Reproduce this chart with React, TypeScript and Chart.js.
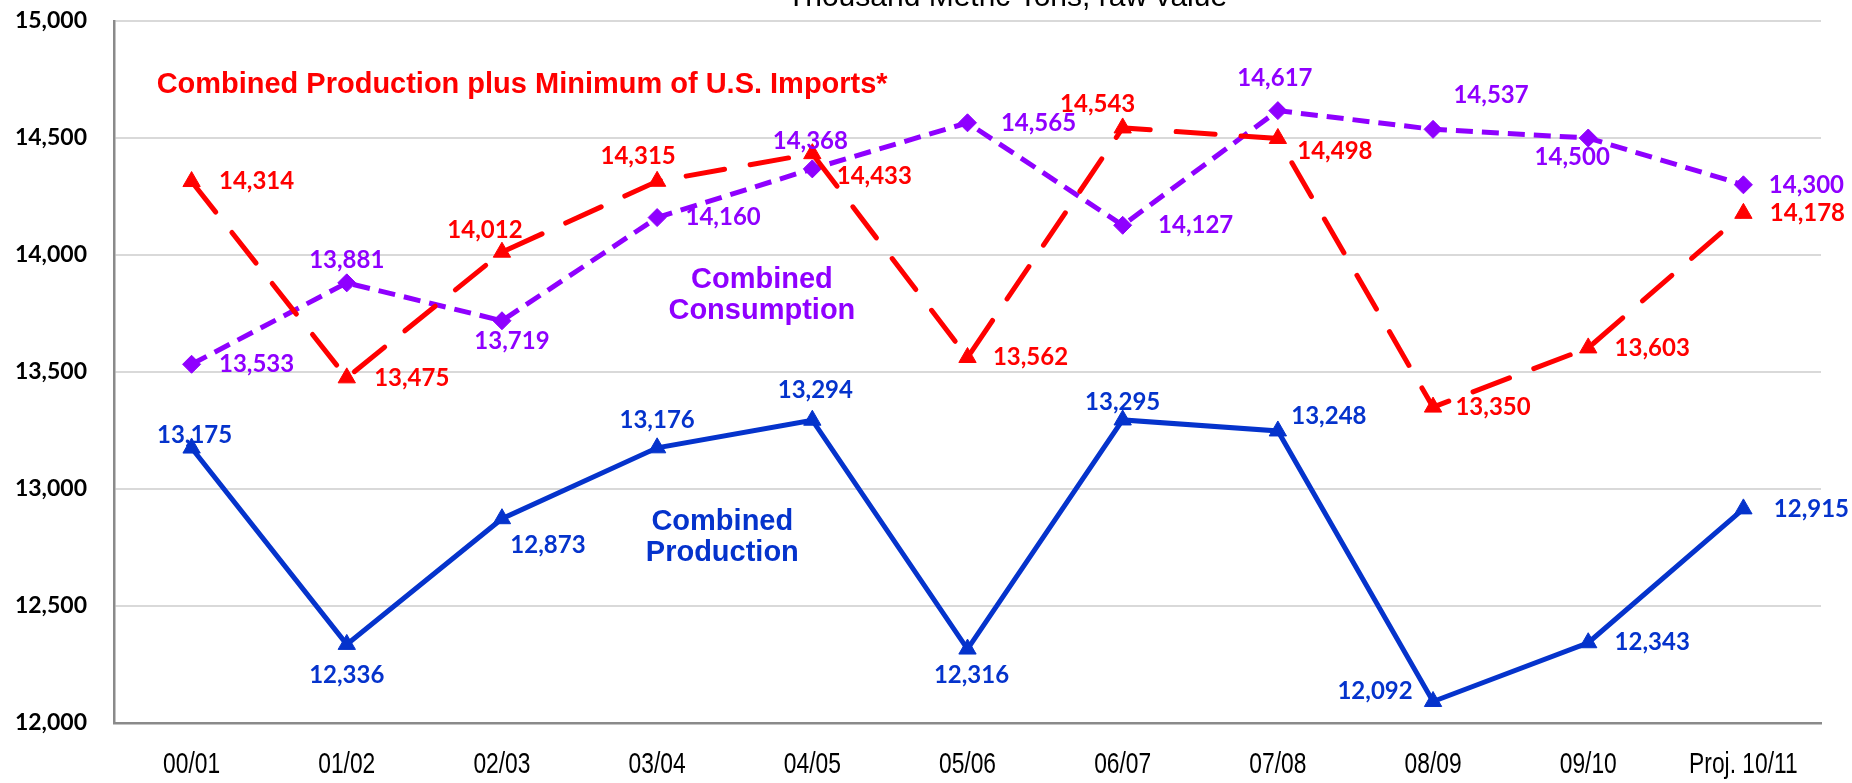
import React, { useEffect, useRef } from 'react';
import { Chart, registerables } from 'chart.js';

Chart.register(...registerables);

const categories = ['00/01', '01/02', '02/03', '03/04', '04/05', '05/06', '06/07', '07/08', '08/09', '09/10', 'Proj. 10/11'];
const productionValues = [13175, 12336, 12873, 13176, 13294, 12316, 13295, 13248, 12092, 12343, 12915];
const productionPlusImportsValues = [14314, 13475, 14012, 14315, 14433, 13562, 14543, 14498, 13350, 13603, 14178];
const consumptionValues = [13533, 13881, 13719, 14160, 14368, 14565, 14127, 14617, 14537, 14500, 14300];

const yMin = 12000;
const yMax = 15000;
const yStep = 500;

const titleText = 'Thousand Metric Tons, raw value';
const productionName = ['Combined', 'Production'];
const consumptionName = ['Combined', 'Consumption'];
const importsName = ['Combined Production plus Minimum of U.S. Imports*'];

// label offsets (px) relative to each point
const productionLabelOffsets = [[3, -13], [0, 31], [46, 27], [0, -28], [3, -30], [4, 26], [0, -18], [51, -15], [-58, -10], [64, 0], [68, 0]];
const importsLabelOffsets = [[65, 0], [65, 0], [-17, -22], [-19, -25], [62, 23], [63, 0], [-25, -24], [57, 13], [60, 0], [64, 0], [64, 0]];
const consumptionLabelOffsets = [[65, 0], [0, -23], [10, 21], [66, 0], [-2, -28], [71, 0], [73, 0], [-3, -32], [58, -34], [-16, 19], [63, 0]];

const BLUE = '#0533CC';
const RED = '#FF0000';
const PURPLE = '#8F00FF';

const fmt = (v: number) => v.toLocaleString('en-US');

const labelPlugin = {
  id: 'customLabels',
  afterDatasetsDraw(chart: any) {
    const ctx = chart.ctx;
    const offsets = [productionLabelOffsets, importsLabelOffsets, consumptionLabelOffsets];
    const colors = [BLUE, RED, PURPLE];
    ctx.save();
    ctx.font = 'bold 24px Lato, "Open Sans", sans-serif';
    ctx.textAlign = 'center';
    ctx.textBaseline = 'middle';
    chart.data.datasets.forEach((ds: any, i: number) => {
      const meta = chart.getDatasetMeta(i);
      ctx.fillStyle = colors[i];
      meta.data.forEach((pt: any, j: number) => {
        const o = offsets[i][j];
        ctx.fillText(fmt(ds.data[j]), pt.x + o[0], pt.y + o[1]);
      });
    });

    const xs = chart.scales.x;
    const ys = chart.scales.y;
    const px = (idx: number) => {
      const a = xs.getPixelForValue(Math.floor(idx));
      const b = xs.getPixelForValue(Math.floor(idx) + 1);
      return a + (b - a) * (idx - Math.floor(idx));
    };
    ctx.font = 'bold 29px "Liberation Sans", Arial, sans-serif';
    // imports annotation
    ctx.fillStyle = RED;
    ctx.fillText(importsName[0], px(2.13), ys.getPixelForValue(14726), 731);
    // consumption annotation
    ctx.fillStyle = PURPLE;
    ctx.fillText(consumptionName[0], px(3.675), ys.getPixelForValue(13893));
    ctx.fillText(consumptionName[1], px(3.675), ys.getPixelForValue(13761));
    // production annotation
    ctx.fillStyle = BLUE;
    ctx.fillText(productionName[0], px(3.42), ys.getPixelForValue(12859));
    ctx.fillText(productionName[1], px(3.42), ys.getPixelForValue(12726));

    // category labels (condensed)
    ctx.fillStyle = '#000000';
    ctx.font = '30px "Liberation Sans", Arial, sans-serif';
    ctx.textBaseline = 'middle';
    categories.forEach((c, i) => {
      const w = ctx.measureText(c).width;
      ctx.fillText(c, xs.getPixelForValue(i), ys.bottom + 42, w * 0.76);
    });

    // clipped title at top
    ctx.font = '30px "Liberation Sans", Arial, sans-serif';
    ctx.textBaseline = 'alphabetic';
    ctx.fillText(titleText, 1007, 6, 445);
    ctx.restore();
  },
};

export default function App() {
  const ref = useRef<HTMLCanvasElement | null>(null);
  useEffect(() => {
    if (!ref.current) return;
    const chart = new Chart(ref.current, {
      type: 'line',
      data: {
        labels: categories,
        datasets: [
          {
            label: 'Combined Production',
            data: productionValues,
            borderColor: BLUE,
            backgroundColor: BLUE,
            borderWidth: 5,
            pointStyle: 'triangle',
            pointRadius: 10,
            pointBorderWidth: 1,
            tension: 0,
          },
          {
            label: 'Combined Production plus Minimum of U.S. Imports*',
            data: productionPlusImportsValues,
            borderColor: RED,
            backgroundColor: RED,
            borderWidth: 5,
            borderDash: [39, 26],
            borderCapStyle: 'round',
            pointStyle: 'triangle',
            pointRadius: 10,
            pointBorderWidth: 1,
            tension: 0,
          },
          {
            label: 'Combined Consumption',
            data: consumptionValues,
            borderColor: PURPLE,
            backgroundColor: PURPLE,
            borderWidth: 5,
            borderDash: [17, 9],
            pointStyle: 'rectRot',
            pointRadius: 9,
            pointBorderWidth: 1,
            tension: 0,
          },
        ],
      },
      options: {
        responsive: true,
        maintainAspectRatio: false,
        animation: false,
        layout: { padding: { top: 21, right: 31, left: 0, bottom: 0 } },
        plugins: {
          legend: { display: false },
          title: { display: false },
          tooltip: { enabled: false },
        },
        scales: {
          x: {
            type: 'category',
            offset: true,
            grid: { display: false, drawTicks: false },
            border: { display: true, color: '#8A8A8A', width: 2.5 },
            ticks: { display: false, autoSkip: false },
            afterFit: (s: any) => { s.height = 60; s.paddingLeft = 0; s.paddingRight = 0; },
          },
          y: {
            min: yMin,
            max: yMax,
            grid: { color: '#D9D9D9', lineWidth: 2, drawTicks: false },
            border: { display: true, color: '#8A8A8A', width: 2.5 },
            ticks: {
              stepSize: yStep,
              color: '#000000',
              padding: 27,
              font: { family: 'Lato, "Open Sans", sans-serif', size: 23, weight: 'bold' },
              callback: (v: any) => fmt(Number(v)),
            },
            afterFit: (s: any) => { s.width = 114; s.paddingTop = 0; s.paddingBottom = 0; },
          },
        },
      },
      plugins: [labelPlugin],
    });
    return () => chart.destroy();
  }, []);
  return (
    <div style={{ position: 'fixed', left: 0, top: 0, width: 1852, height: 783, background: '#ffffff' }}>
      <canvas ref={ref} />
    </div>
  );
}
